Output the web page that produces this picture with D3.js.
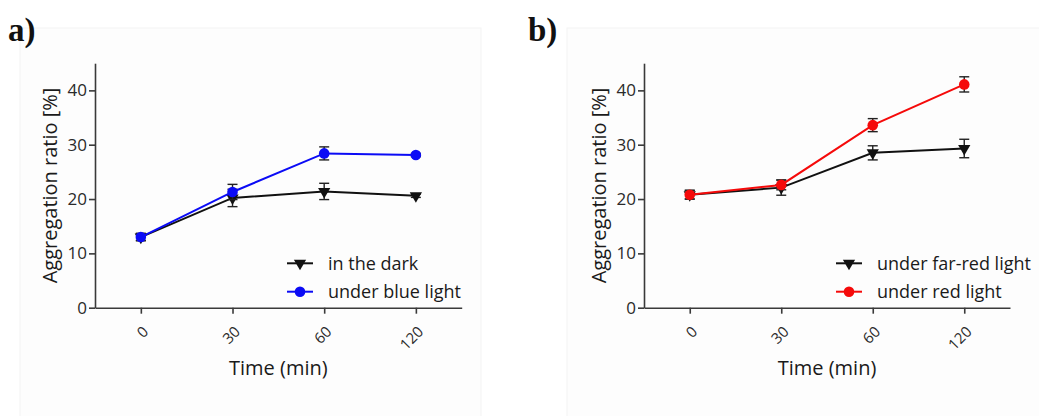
<!DOCTYPE html>
<html><head><meta charset="utf-8">
<script src="https://cdn.jsdelivr.net/npm/d3@7"></script>
<style>
html,body{margin:0;padding:0;background:#fff;}
svg{display:block;}
text{font-family:"Open Sans",sans-serif;}
</style></head>
<body>
<svg id="c" width="1039" height="416"></svg>
<script>
const categories = ["0", "30", "60", "120"];
const yTicks = [0, 10, 20, 30, 40];

// Panel a
const darkMean = [13.0, 20.2, 21.4, 20.6];
const darkErr  = [0.7, 1.6, 1.5, 0.3];
const blueMean = [13.0, 21.3, 28.4, 28.1];
const blueErr  = [0.6, 1.4, 1.2, 0.3];

// Panel b
const farRedMean = [20.8, 22.1, 28.5, 29.3];
const farRedErr  = [0.8, 1.4, 1.3, 1.7];
const redMean    = [20.8, 22.6, 33.6, 41.1];
const redErr     = [0.8, 0.9, 1.2, 1.4];

const panelLabels = ["a)", "b)"];
const legendA = ["in the dark", "under blue light"];
const legendB = ["under far-red light", "under red light"];
const xTitle = "Time (min)";
const yTitle = "Aggregation ratio [%]";

const svg = d3.select("#c");

function drawPanel(o){
  const g = svg.append("g");
  g.append("rect").attr("x", o.bx).attr("y", 28).attr("width", o.bw).attr("height", 400)
    .attr("fill", "#fdfdfd").attr("stroke", "#f3f3f3");
  g.append("text").text(o.label).attr("x", o.lx).attr("y", 41)
    .style("font-family", "'Liberation Serif', 'Times New Roman', serif")
    .style("font-weight", "bold").style("font-size", "33px").attr("fill", "#111");

  const x = d3.scalePoint().domain(categories).range([o.x0, o.x1]).padding(0.5);
  const y = d3.scaleLinear().domain([0, 45]).range([307.7, 63.2]);

  const axCol = "#3a3a3a";
  const ya = g.append("g").attr("transform", `translate(${o.x0},0)`)
    .call(d3.axisLeft(y).tickValues(yTicks).tickSize(6).tickPadding(2).tickSizeOuter(0));
  ya.select(".domain").attr("stroke", axCol).attr("stroke-width", 1.6);
  ya.selectAll(".tick line").attr("stroke", axCol).attr("stroke-width", 1.6);
  ya.selectAll(".tick text").attr("fill", "#2a2a2a").style("font-size", "17px")
    .style("font-family", "'Open Sans',sans-serif");

  const xa = g.append("g").attr("transform", `translate(0,${y(0)})`)
    .call(d3.axisBottom(x).tickSize(6).tickSizeOuter(0));
  xa.select(".domain").attr("stroke", axCol).attr("stroke-width", 1.6);
  xa.selectAll(".tick line").attr("stroke", axCol).attr("stroke-width", 1.6);
  xa.selectAll(".tick text").attr("fill", "#2a2a2a").style("font-size", "15px")
    .style("font-family", "'Open Sans',sans-serif")
    .attr("text-anchor", "end").attr("dy", null).attr("y", 0)
    .attr("transform", "translate(8,25) rotate(-45)");

  g.append("text").text(xTitle).attr("x", (o.x0 + o.x1) / 2).attr("y", 375)
    .attr("text-anchor", "middle").attr("fill", "#1a1a1a").style("font-size", "20px");
  g.append("text").text(yTitle)
    .attr("transform", `translate(${o.x0 - 38},${185.5}) rotate(-90)`)
    .attr("text-anchor", "middle").attr("fill", "#1a1a1a").style("font-size", "20px");

  const line = d3.line().x((d, i) => x(categories[i])).y(d => y(d));

  o.series.forEach(s => {
    const sg = g.append("g");
    s.mean.forEach((m, i) => {
      const cx = x(categories[i]);
      const e = s.err[i];
      sg.append("line").attr("x1", cx).attr("x2", cx).attr("y1", y(m - e)).attr("y2", y(m + e))
        .attr("stroke", "#222").attr("stroke-width", 1.4);
      [m - e, m + e].forEach(v => sg.append("line").attr("x1", cx - 5).attr("x2", cx + 5)
        .attr("y1", y(v)).attr("y2", y(v)).attr("stroke", "#222").attr("stroke-width", 1.4));
    });
    sg.append("path").attr("d", line(s.mean)).attr("fill", "none")
      .attr("stroke", s.color).attr("stroke-width", 2);
    s.mean.forEach((m, i) => drawMarker(sg, s, x(categories[i]), y(m)));
  });

  o.series.forEach((s, i) => {
    const ly = o.legY + i * 28.4;
    g.append("line").attr("x1", o.legX).attr("x2", o.legX + 26).attr("y1", ly).attr("y2", ly)
      .attr("stroke", s.color).attr("stroke-width", 2);
    drawMarker(g, s, o.legX + 13, ly);
    g.append("text").text(s.name).attr("x", o.legX + 41).attr("y", ly).attr("dy", "0.35em")
      .attr("fill", "#1a1a1a").style("font-size", "18px");
  });
}

function drawMarker(g, s, cx, cy){
  if (s.shape === "tri") {
    g.append("path").attr("d", d3.symbol().type(d3.symbolTriangle).size(65)())
      .attr("transform", `translate(${cx},${cy}) rotate(180)`).attr("fill", s.color);
  } else {
    g.append("circle").attr("cx", cx).attr("cy", cy).attr("r", 5.3).attr("fill", s.color);
  }
}

drawPanel({
  label: panelLabels[0], lx: 8, bx: 20, bw: 461,
  x0: 95, x1: 461.7, legX: 287, legY: 263.3,
  series: [
    {name: legendA[0], mean: darkMean, err: darkErr, color: "#111", shape: "tri"},
    {name: legendA[1], mean: blueMean, err: blueErr, color: "#0b0bf5", shape: "circle"}
  ]
});
drawPanel({
  label: panelLabels[1], lx: 528, bx: 567, bw: 480,
  x0: 644, x1: 1010, legX: 836, legY: 263.3,
  series: [
    {name: legendB[0], mean: farRedMean, err: farRedErr, color: "#111", shape: "tri"},
    {name: legendB[1], mean: redMean, err: redErr, color: "#f50a0a", shape: "circle"}
  ]
});
</script>
</body></html>
